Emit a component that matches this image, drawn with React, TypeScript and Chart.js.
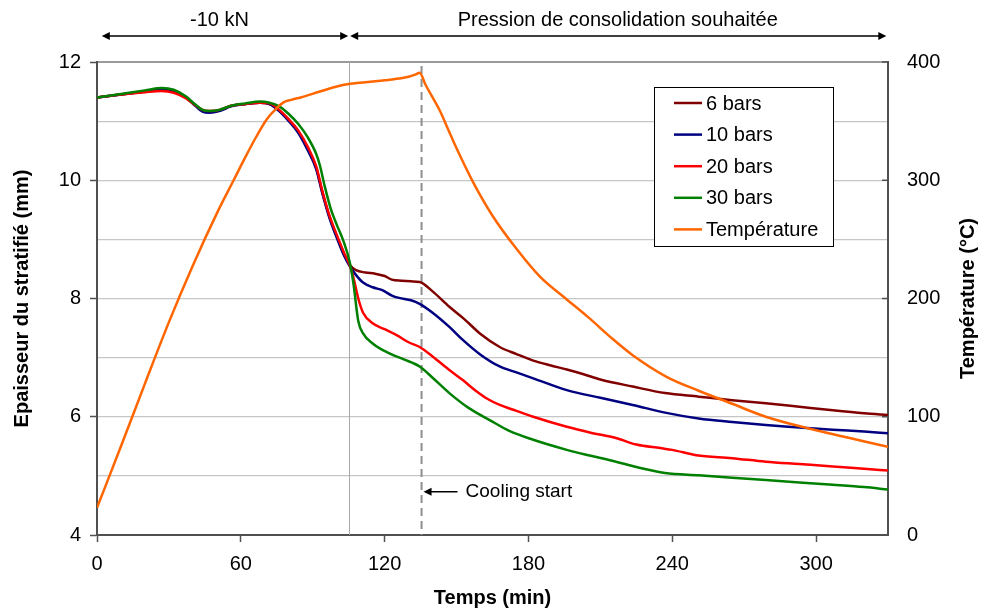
import React, { useEffect, useRef } from "react";
import { Chart, registerables } from "chart.js";

Chart.register(...registerables);

const FONT = '"Liberation Sans", Arial, Helvetica, sans-serif';

// ---- axes ----
const X_MIN = 0;
const X_MAX = 330;
const X_TICKS = [0, 60, 120, 180, 240, 300];
const Y_MIN = 4;
const Y_MAX = 12;
const Y_TICKS = [4, 6, 8, 10, 12];
const Y1_MIN = 0;
const Y1_MAX = 400;
const Y1_GRID = [0, 50, 100, 150, 200, 250, 300, 350, 400];
const Y1_LABELS = [0, 100, 200, 300, 400];

const X_TITLE = "Temps (min)";
const Y_TITLE = "Epaisseur du stratifié (mm)";
const Y1_TITLE = "Température (°C)";

// ---- annotations ----
const PHASE_START = 2;
const PHASE_SPLIT = 105.2;
const PHASE_END = 329.3;
const PHASE_LABELS = ["-10 kN", "Pression de consolidation souhaitée"];
const COOLING_TIME = 135.4;
const COOLING_LABEL = "Cooling start";
const COOLING_LEVEL = 4.73;

// ---- series ----
const LABELS = ["6 bars", "10 bars", "20 bars", "30 bars", "Température"];
const COLORS = ["#800000", "#000080", "#ff0000", "#008000", "#ff6600"];

const t6 = [0, 10, 20, 27, 32, 37, 41, 44, 47, 51, 56, 62, 68, 72, 76, 80, 84, 88, 91.5, 94, 97, 100, 103, 105.4, 108, 112, 116, 120, 123, 127, 131, 134.6, 140, 147, 153, 160, 168, 175, 182, 189, 196, 203, 210, 223.5, 237, 251, 265, 279, 293, 307, 320, 330];
const v6 = [11.40, 11.45, 11.50, 11.53, 11.50, 11.40, 11.27, 11.18, 11.15, 11.18, 11.26, 11.29, 11.31, 11.29, 11.18, 11.02, 10.82, 10.53, 10.20, 9.80, 9.38, 9.05, 8.75, 8.57, 8.48, 8.44, 8.42, 8.38, 8.32, 8.30, 8.29, 8.28, 8.12, 7.86, 7.66, 7.40, 7.18, 7.06, 6.95, 6.87, 6.80, 6.72, 6.63, 6.51, 6.40, 6.34, 6.28, 6.23, 6.17, 6.11, 6.06, 6.03];

const t10 = [0, 10, 20, 27, 32, 37, 41, 44, 47, 51, 56, 62, 68, 72, 76, 80, 84, 88, 91.5, 94, 97, 100, 103, 105.4, 108, 111, 115, 119, 123, 126, 131, 134.6, 140, 147, 152.6, 160, 168, 175, 182, 196, 210, 223.5, 237, 251, 265, 279, 293, 307, 320, 330];
const v10 = [11.40, 11.45, 11.50, 11.53, 11.50, 11.40, 11.26, 11.16, 11.14, 11.17, 11.25, 11.29, 11.31, 11.29, 11.17, 11.00, 10.80, 10.50, 10.18, 9.78, 9.36, 9.03, 8.73, 8.55, 8.40, 8.27, 8.19, 8.14, 8.05, 8.01, 7.97, 7.91, 7.76, 7.52, 7.30, 7.05, 6.85, 6.75, 6.65, 6.45, 6.32, 6.20, 6.07, 5.97, 5.91, 5.86, 5.82, 5.78, 5.75, 5.72];

const t20 = [0, 10, 20, 27, 32, 37, 41, 44, 47, 51, 56, 62, 68, 72, 76, 80, 84, 88, 91.5, 94, 97, 100, 103, 105.4, 107, 109, 111, 115, 120, 125, 130, 134.6, 140, 147, 152.6, 158, 163, 168, 175, 182, 196, 206, 216.5, 225, 235, 240, 250, 265, 279, 293, 307, 320, 330];
const v20 = [11.40, 11.45, 11.49, 11.51, 11.48, 11.39, 11.27, 11.19, 11.17, 11.19, 11.26, 11.29, 11.31, 11.30, 11.19, 11.03, 10.84, 10.56, 10.23, 9.82, 9.40, 9.08, 8.78, 8.57, 8.35, 8.00, 7.76, 7.58, 7.48, 7.38, 7.26, 7.18, 7.02, 6.79, 6.62, 6.44, 6.30, 6.20, 6.10, 6.00, 5.83, 5.73, 5.64, 5.53, 5.47, 5.44, 5.35, 5.30, 5.24, 5.20, 5.16, 5.12, 5.09];

const t30 = [0, 10, 20, 27, 32, 37, 41, 44, 47, 51, 56, 62, 68, 72, 76, 80, 84, 88, 91.5, 93, 95, 97.5, 100, 103, 105.4, 107, 109, 111, 115, 122, 128, 134.6, 140, 147, 155, 164, 172, 182, 196, 206, 216.5, 225, 237, 251, 265, 279, 293, 307, 320, 330];
const v30 = [11.40, 11.46, 11.52, 11.56, 11.53, 11.42, 11.28, 11.19, 11.17, 11.19, 11.26, 11.30, 11.33, 11.31, 11.25, 11.12, 10.95, 10.72, 10.44, 10.25, 9.90, 9.52, 9.25, 8.95, 8.62, 8.25, 7.62, 7.41, 7.24, 7.07, 6.97, 6.85, 6.66, 6.40, 6.15, 5.94, 5.76, 5.61, 5.44, 5.34, 5.24, 5.15, 5.05, 5.01, 4.97, 4.93, 4.89, 4.85, 4.81, 4.77];

const tT = [0, 10, 20, 30, 40, 50, 57, 62, 66.5, 71, 75, 78, 81, 85, 93, 102.6, 109.6, 115, 120, 126, 130, 133, 134.6, 137, 140, 143, 146.5, 150, 157, 165, 175, 185, 195.5, 205, 215, 223.5, 237.4, 251, 265, 279, 297, 314, 330];
const vT = [23, 75, 128, 180, 228, 272, 300, 320, 337, 352, 361, 366, 368, 370, 375, 380.5, 382.5, 383.5, 384.5, 386, 387.5, 389.5, 391, 381, 370, 359, 343, 327, 298, 270, 242, 218, 200, 184, 166, 152, 134, 122, 111, 100, 90, 82, 74.5];

const SERIES_T = [t6, t10, t20, t30, tT];
const SERIES_V = [v6, v10, v20, v30, vT];

function arrowHead(ctx: CanvasRenderingContext2D, x: number, y: number, dir: number) {
  ctx.beginPath();
  ctx.moveTo(x, y);
  ctx.lineTo(x - dir * 8, y - 4);
  ctx.lineTo(x - dir * 8, y + 4);
  ctx.closePath();
  ctx.fill();
}

const annotPlugin = {
  id: "annot",
  beforeDatasetsDraw(chart: any) {
    const { ctx, chartArea, scales } = chart;
    const x = scales.x;
    ctx.save();
    const xs = Math.round(x.getPixelForValue(PHASE_SPLIT)) + 0.5;
    ctx.strokeStyle = "#a8a8a8";
    ctx.lineWidth = 1;
    ctx.beginPath();
    ctx.moveTo(xs, chartArea.top);
    ctx.lineTo(xs, chartArea.bottom);
    ctx.stroke();
    const xc = x.getPixelForValue(COOLING_TIME);
    ctx.strokeStyle = "#8f8f8f";
    ctx.lineWidth = 2;
    ctx.setLineDash([8, 5]);
    ctx.beginPath();
    ctx.moveTo(xc, chartArea.top + 4);
    ctx.lineTo(xc, chartArea.bottom);
    ctx.stroke();
    ctx.restore();
  },
  afterDraw(chart: any) {
    const { ctx, chartArea, scales } = chart;
    const x = scales.x;
    const y = scales.y;
    const y1 = scales.y1;
    ctx.save();

    // inward ticks on the right axis
    ctx.strokeStyle = "#505050";
    ctx.lineWidth = 1.5;
    Y1_LABELS.forEach((v) => {
      const py = y1.getPixelForValue(v);
      ctx.beginPath();
      ctx.moveTo(chartArea.right, py);
      ctx.lineTo(chartArea.right - 6, py);
      ctx.stroke();
    });

    // axis titles
    ctx.fillStyle = "#000";
    ctx.font = `bold 20px ${FONT}`;
    ctx.textAlign = "center";
    ctx.textBaseline = "middle";
    const cy = (chartArea.top + chartArea.bottom) / 2;
    ctx.save();
    ctx.translate(22, cy);
    ctx.rotate(-Math.PI / 2);
    ctx.fillText(Y_TITLE, 0, 0);
    ctx.restore();
    ctx.save();
    ctx.translate(968, cy);
    ctx.rotate(-Math.PI / 2);
    ctx.fillText(Y1_TITLE, 0, 0);
    ctx.restore();
    ctx.fillText(X_TITLE, (chartArea.left + chartArea.right) / 2, 598);

    // top phase arrows
    const ay = 36;
    const p0 = x.getPixelForValue(PHASE_START);
    const p1 = x.getPixelForValue(PHASE_SPLIT);
    const p2 = x.getPixelForValue(PHASE_END);
    ctx.strokeStyle = "#000";
    ctx.fillStyle = "#000";
    ctx.lineWidth = 1.5;
    ctx.beginPath();
    ctx.moveTo(p0 + 2, ay);
    ctx.lineTo(p1 - 3, ay);
    ctx.moveTo(p1 + 3, ay);
    ctx.lineTo(p2 - 2, ay);
    ctx.stroke();
    arrowHead(ctx, p0, ay, -1);
    arrowHead(ctx, p1 - 1, ay, 1);
    arrowHead(ctx, p1 + 1, ay, -1);
    arrowHead(ctx, p2, ay, 1);
    ctx.font = `20px ${FONT}`;
    ctx.fillText(PHASE_LABELS[0], (p0 + p1) / 2 - 6, 20);
    ctx.fillText(PHASE_LABELS[1], (p1 + p2) / 2, 20);

    // cooling start annotation
    const xc = x.getPixelForValue(COOLING_TIME);
    const yc = y.getPixelForValue(COOLING_LEVEL);
    ctx.lineWidth = 1.5;
    ctx.beginPath();
    ctx.moveTo(xc + 4, yc);
    ctx.lineTo(xc + 36, yc);
    ctx.stroke();
    arrowHead(ctx, xc + 2, yc, -1);
    ctx.font = `19px ${FONT}`;
    ctx.textAlign = "left";
    ctx.fillText(COOLING_LABEL, xc + 44, yc);

    // legend
    const lx = 654, ly = 87, lw = 179, lh = 159;
    ctx.fillStyle = "#fff";
    ctx.fillRect(lx, ly, lw, lh);
    ctx.strokeStyle = "#000";
    ctx.lineWidth = 1;
    ctx.strokeRect(lx + 0.5, ly + 0.5, lw, lh);
    ctx.font = `20px ${FONT}`;
    chart.data.datasets.forEach((ds: any, i: number) => {
      const ry = ly + 16 + i * 31.6;
      ctx.strokeStyle = ds.borderColor;
      ctx.lineWidth = 2.5;
      ctx.beginPath();
      ctx.moveTo(lx + 20, ry);
      ctx.lineTo(lx + 48, ry);
      ctx.stroke();
      ctx.fillStyle = "#000";
      ctx.fillText(ds.label, lx + 52, ry + 1);
    });
    ctx.restore();
  },
};

export default function App() {
  const ref = useRef<HTMLCanvasElement>(null);
  useEffect(() => {
    const canvas = ref.current!;
    const datasets = LABELS.map((label, i) => ({
      label,
      data: SERIES_T[i].map((t, j) => ({ x: t, y: SERIES_V[i][j] })),
      borderColor: COLORS[i],
      backgroundColor: COLORS[i],
      borderWidth: 2.5,
      pointRadius: 0,
      fill: false,
      cubicInterpolationMode: "monotone" as const,
      yAxisID: i === 4 ? "y1" : "y",
      order: 5 - i,
    }));
    const tickFont = { family: FONT, size: 20 };
    const chart = new Chart(canvas, {
      type: "line",
      data: { datasets },
      plugins: [annotPlugin],
      options: {
        animation: false,
        responsive: false,
        devicePixelRatio: 1,
        layout: { padding: { top: 62, left: 0, right: 0, bottom: 0 } },
        plugins: { legend: { display: false }, tooltip: { enabled: false } },
        scales: {
          x: {
            type: "linear",
            min: X_MIN,
            max: X_MAX,
            afterBuildTicks: (s: any) => { s.ticks = X_TICKS.map((v) => ({ value: v })); },
            afterFit: (s: any) => { s.height = 75; },
            ticks: { font: tickFont, color: "#000", padding: 10, maxRotation: 0 },
            grid: { drawOnChartArea: false, tickLength: 7, tickColor: "#505050", tickWidth: 1.5 },
            border: { color: "#505050", width: 2 },
          },
          y: {
            type: "linear",
            position: "left",
            min: Y_MIN,
            max: Y_MAX,
            afterBuildTicks: (s: any) => { s.ticks = Y_TICKS.map((v) => ({ value: v })); },
            afterFit: (s: any) => { s.width = 97; },
            ticks: { font: tickFont, color: "#000", padding: 9 },
            grid: { drawOnChartArea: false, tickLength: 7, tickColor: "#505050", tickWidth: 1.5 },
            border: { color: "#505050", width: 2 },
          },
          y1: {
            type: "linear",
            position: "right",
            min: Y1_MIN,
            max: Y1_MAX,
            afterBuildTicks: (s: any) => { s.ticks = Y1_GRID.map((v) => ({ value: v })); },
            afterFit: (s: any) => { s.width = 97; },
            ticks: {
              font: tickFont,
              color: "#000",
              padding: 19,
              callback: (v: any) => (Y1_LABELS.includes(Number(v)) ? String(v) : ""),
            },
            grid: {
              drawTicks: false,
              color: (c: any) => (c.tick && c.tick.value === Y1_MAX ? "#9a9a9a" : "#c6c6c6"),
              lineWidth: (c: any) => (c.tick && c.tick.value === Y1_MAX ? 2 : 1.2),
            },
            border: { color: "#505050", width: 2 },
          },
        },
      } as any,
    });
    return () => chart.destroy();
  }, []);
  return (
    <div style={{ position: "fixed", left: 0, top: 0, width: 985, height: 610, background: "#fff" }}>
      <canvas ref={ref} width={985} height={610} style={{ display: "block", width: 985, height: 610 }} />
    </div>
  );
}
